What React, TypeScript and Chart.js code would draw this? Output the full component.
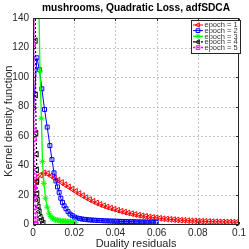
import React, { useEffect, useRef } from 'react';
import { Chart, registerables } from 'chart.js';
import { drawPoint } from 'chart.js/helpers';

Chart.register(...registerables);

const titleText = 'mushrooms, Quadratic Loss, adfSDCA';
const xAxisTitle = 'Duality residuals';
const yAxisTitle = 'Kernel density function';

const xTicks = [0, 0.02, 0.04, 0.06, 0.08, 0.1];
const xTickLabels = ['0', '0.02', '0.04', '0.06', '0.08', '0.1'];
const yTicks = [0, 20, 40, 60, 80, 100, 120, 140];
const yTickLabels = ['0', '20', '40', '60', '80', '100', '120', '140'];

const seriesNames = ['epoch = 1', 'epoch = 2', 'epoch = 3', 'epoch = 4', 'epoch = 5'];

const epoch1X = [0.0003, 0.0020, 0.0037, 0.0054, 0.0071, 0.0088, 0.0105, 0.0122, 0.0139, 0.0156,
  0.0173, 0.0190, 0.0207, 0.0224, 0.0241, 0.0258, 0.0275, 0.0292, 0.0309, 0.0326,
  0.0343, 0.0360, 0.0377, 0.0394, 0.0411, 0.0428, 0.0445, 0.0462, 0.0479, 0.0496,
  0.0513, 0.0530, 0.0547, 0.0564, 0.0581, 0.0598, 0.0615, 0.0632, 0.0649, 0.0666,
  0.0683, 0.0700, 0.0717, 0.0734, 0.0751, 0.0768, 0.0785, 0.0802, 0.0819, 0.0836,
  0.0853, 0.0870, 0.0887, 0.0904, 0.0921, 0.0938, 0.0955, 0.0972, 0.0989, 0.1006];
const epoch1Y = [24, 30, 33.5, 35, 34.5, 33, 31.5, 30, 28.5, 27,
  25.5, 24, 22.5, 21, 19.6, 18.2, 16.9, 15.7, 14.6, 13.6,
  12.7, 11.9, 11.1, 10.4, 9.7, 9.0, 8.4, 7.8, 7.3, 6.8,
  6.3, 5.9, 5.5, 5.1, 4.8, 4.5, 4.2, 3.9, 3.7, 3.5,
  3.3, 3.1, 2.9, 2.8, 2.6, 2.5, 2.4, 2.3, 2.2, 2.1,
  2.0, 1.9, 1.85, 1.8, 1.75, 1.7, 1.65, 1.6, 1.55, 1.5];

const epoch2X = [0.0003, 0.0019, 0.0031, 0.0043, 0.0056, 0.0069, 0.0082, 0.0092, 0.0102, 0.0111,
  0.0119, 0.0127, 0.0135, 0.0143, 0.0151, 0.0160, 0.0170, 0.0180, 0.0191, 0.0202,
  0.0214, 0.0226, 0.0238, 0.0250, 0.0262, 0.0274, 0.0286, 0.0298, 0.0310, 0.0322,
  0.0334, 0.0346, 0.0358, 0.0370, 0.0382, 0.0394, 0.0406, 0.0418, 0.0430, 0.0442,
  0.0454, 0.0466, 0.0478, 0.0490, 0.0502, 0.0514, 0.0526, 0.0538, 0.0550, 0.0562,
  0.0574, 0.0586, 0.0598];
const epoch2Y = [79, 113, 105, 92, 78, 66, 53.5, 44, 35, 29.5,
  25.5, 21.8, 17.8, 15, 12.7, 10.7, 8.7, 7.1, 6, 5,
  4.4, 4, 3.7, 3.5, 3.3, 3.1, 3, 2.9, 2.8, 2.7,
  2.6, 2.5, 2.45, 2.4, 2.3, 2.25, 2.2, 2.15, 2.1, 2.05,
  2.0, 1.95, 1.9, 1.85, 1.8, 1.75, 1.7, 1.7, 1.65, 1.6,
  1.6, 1.55, 1.5];

const epoch3X = [0.0010, 0.0026, 0.0034, 0.0041, 0.0046, 0.0053, 0.0061, 0.0069, 0.0078, 0.0086,
  0.0094, 0.0102, 0.0110, 0.0118, 0.0126, 0.0134, 0.0142, 0.0150, 0.0158, 0.0166,
  0.0174, 0.0182, 0.0190, 0.0198, 0.0206];
const epoch3Y = [150, 170, 104, 72, 42.6, 27.9, 17.8, 11.7, 7.6, 5.4,
  4.3, 3.6, 3.2, 2.9, 2.7, 2.5, 2.3, 2.2, 2.1, 2.0,
  1.9, 1.8, 1.7, 1.6, 1.5];

const epoch4X = [0.0000, 0.0004, 0.0008, 0.0012, 0.0013, 0.0015, 0.0017, 0.0018, 0.0019, 0.0020,
  0.0022, 0.0026, 0.0031, 0.0036, 0.0042, 0.0050];
const epoch4Y = [20, 200, 260, 124.6, 87.8, 62, 47.6, 37, 29, 21,
  16.6, 12, 8.7, 5, 3, 1];

const epoch5X = [0.0002, 0.0003, 0.0005, 0.0006, 0.0007, 0.0008, 0.0009, 0.0010, 0.0011, 0.0012,
  0.0013, 0.0015];
const epoch5Y = [122, 400, 64, 57.8, 33, 25, 18, 11.7, 6.4, 2.5,
  0.8, 0.3];

const FONT = 'Liberation Sans, Arial, Helvetica, sans-serif';
const AXIS_COLOR = '#262626';
const GRID_COLOR = '#c4c4c4';

type Style = {
  color: string; pointStyle: string; rotation: number; radius: number; dash: number[]; width: number;
};
const styles: Style[] = [
  { color: '#ff0000', pointStyle: 'triangle', rotation: -90, radius: 3.3, dash: [], width: 1 },
  { color: '#0000ff', pointStyle: 'rect', rotation: 0, radius: 2.8, dash: [], width: 1 },
  { color: '#00ff00', pointStyle: 'star', rotation: 0, radius: 3, dash: [], width: 1.3 },
  { color: '#000000', pointStyle: 'triangle', rotation: -90, radius: 3.3, dash: [2, 2], width: 1.2 },
  { color: '#ff00ff', pointStyle: 'rect', rotation: 0, radius: 2.8, dash: [2, 2], width: 1.5 },
];

const framePlugin = {
  id: 'matlabFrame',
  beforeDatasetsDraw(chart: any) {
    const { ctx, chartArea: a, scales } = chart;
    const xs = scales.x, ys = scales.y;
    ctx.save();
    ctx.strokeStyle = GRID_COLOR;
    ctx.lineWidth = 1;
    ctx.setLineDash([2, 2]);
    xTicks.slice(1, -1).forEach((v) => {
      const px = Math.round(xs.getPixelForValue(v)) + 0.5;
      ctx.beginPath(); ctx.moveTo(px, a.top); ctx.lineTo(px, a.bottom); ctx.stroke();
    });
    yTicks.slice(1, -1).forEach((v) => {
      const py = Math.round(ys.getPixelForValue(v)) + 0.5;
      ctx.beginPath(); ctx.moveTo(a.left, py); ctx.lineTo(a.right, py); ctx.stroke();
    });
    ctx.restore();
  },
  afterDatasetsDraw(chart: any) {
    const { ctx, chartArea: a, scales } = chart;
    const xs = scales.x, ys = scales.y;
    const L = Math.round(a.left) + 0.5, R = Math.round(a.right) - 0.5;
    const T = Math.round(a.top) + 0.5, B = Math.round(a.bottom) - 0.5;
    ctx.save();
    ctx.setLineDash([]);
    ctx.strokeStyle = AXIS_COLOR;
    ctx.lineWidth = 1;
    ctx.strokeRect(L, T, R - L, B - T);
    const tl = 2.5;
    xTicks.forEach((v) => {
      const px = Math.round(xs.getPixelForValue(v)) + 0.5;
      ctx.beginPath();
      ctx.moveTo(px, B); ctx.lineTo(px, B - tl);
      ctx.moveTo(px, T); ctx.lineTo(px, T + tl);
      ctx.stroke();
    });
    yTicks.forEach((v) => {
      const py = Math.round(ys.getPixelForValue(v)) + 0.5;
      ctx.beginPath();
      ctx.moveTo(L, py); ctx.lineTo(L + tl, py);
      ctx.moveTo(R, py); ctx.lineTo(R - tl, py);
      ctx.stroke();
    });

    // titles
    const cx = (a.left + a.right) / 2;
    ctx.fillStyle = '#000';
    ctx.textAlign = 'center';
    ctx.textBaseline = 'middle';
    ctx.font = `bold 10.2px ${FONT}`;
    ctx.fillText(titleText, cx, 8.5);
    ctx.fillStyle = '#262626';
    ctx.font = `11px ${FONT}`;
    ctx.fillText(xAxisTitle, cx, 243.5);
    ctx.save();
    ctx.translate(8.5, (a.top + a.bottom) / 2);
    ctx.rotate(-Math.PI / 2);
    ctx.fillText(yAxisTitle, 0, 0);
    ctx.restore();

    // legend
    const lx = 191.5, ly = 20.5, lw = 49, lh = 33;
    ctx.fillStyle = '#ffffff';
    ctx.fillRect(lx, ly, lw, lh);
    ctx.strokeStyle = AXIS_COLOR;
    ctx.strokeRect(lx, ly, lw, lh);
    seriesNames.forEach((name, i) => {
      const s = styles[i];
      const y = ly + 4.5 + i * 5.65;
      ctx.save();
      ctx.strokeStyle = s.color;
      ctx.lineWidth = s.width;
      ctx.setLineDash(s.dash);
      ctx.beginPath(); ctx.moveTo(193, y); ctx.lineTo(203, y); ctx.stroke();
      ctx.setLineDash([]);
      ctx.lineWidth = 1;
      ctx.fillStyle = 'rgba(0,0,0,0)';
      drawPoint(ctx, { pointStyle: s.pointStyle as any, rotation: s.rotation, radius: 2.6, borderWidth: 1 }, 198, y);
      ctx.restore();
      ctx.fillStyle = '#333';
      ctx.textAlign = 'left';
      ctx.textBaseline = 'middle';
      ctx.font = `7.5px ${FONT}`;
      ctx.fillText(name, 204.5, y + 0.3);
    });
    ctx.restore();
  },
};

export default function App() {
  const ref = useRef<HTMLCanvasElement>(null);
  useEffect(() => {
    const canvas = ref.current;
    if (!canvas) return;
    const pairs = [
      [epoch1X, epoch1Y], [epoch2X, epoch2Y], [epoch3X, epoch3Y], [epoch4X, epoch4Y], [epoch5X, epoch5Y],
    ];
    const datasets = pairs.map(([xsArr, ysArr], i) => {
      const s = styles[i];
      return {
        label: seriesNames[i],
        data: xsArr.map((x, j) => ({ x, y: ysArr[j] })),
        borderColor: s.color,
        borderWidth: s.width,
        borderDash: s.dash,
        pointStyle: s.pointStyle,
        pointRotation: s.rotation,
        pointRadius: s.radius,
        pointBorderWidth: 1,
        pointBorderColor: s.color,
        pointBackgroundColor: 'rgba(0,0,0,0)',
        fill: false,
        tension: 0,
        order: 5 - i,
      };
    });
    const chart = new Chart(canvas, {
      type: 'line',
      data: { datasets: datasets as any },
      options: {
        responsive: false,
        animation: false,
        devicePixelRatio: 1,
        layout: { padding: { top: 18, right: 8, left: 0, bottom: 0 } },
        plugins: { legend: { display: false }, title: { display: false }, tooltip: { enabled: false } },
        scales: {
          x: {
            type: 'linear',
            min: 0,
            max: 0.1,
            afterBuildTicks: (s: any) => { s.ticks = xTicks.map((v) => ({ value: v })); },
            ticks: {
              callback: (v: any) => xTickLabels[xTicks.indexOf(Number(v))] ?? '',
              font: { family: FONT, size: 10 },
              color: AXIS_COLOR,
              padding: 3,
              maxRotation: 0,
              autoSkip: false,
            },
            grid: { display: false, drawTicks: false },
            border: { display: false },
            afterFit: (s: any) => { s.height = 24.5; },
          },
          y: {
            type: 'linear',
            min: 0,
            max: 140,
            afterBuildTicks: (s: any) => { s.ticks = yTicks.map((v) => ({ value: v })); },
            ticks: {
              callback: (v: any) => yTickLabels[yTicks.indexOf(Number(v))] ?? '',
              font: { family: FONT, size: 10 },
              color: AXIS_COLOR,
              padding: 4,
              autoSkip: false,
            },
            grid: { display: false, drawTicks: false },
            border: { display: false },
            afterFit: (s: any) => { s.width = 33; },
          },
        },
      },
      plugins: [framePlugin],
    });
    return () => chart.destroy();
  }, []);
  return (
    <div style={{ position: 'fixed', left: 0, top: 0, width: 249, height: 249, background: '#fff' }}>
      <canvas ref={ref} width={249} height={249} style={{ width: 249, height: 249, display: 'block' }} />
    </div>
  );
}
